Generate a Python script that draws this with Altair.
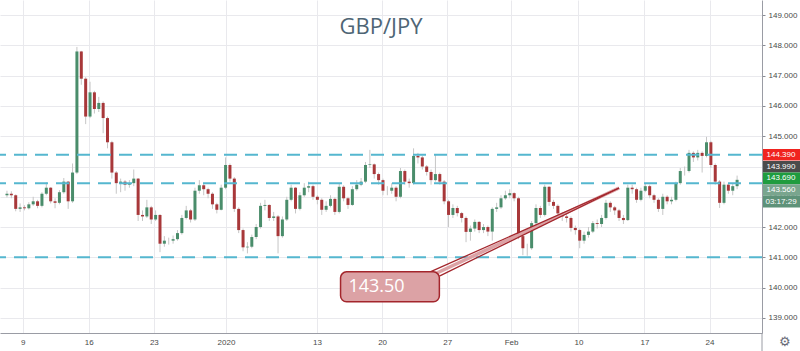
import altair as alt
import pandas as pd

# ---- data (4h-ish candles, GBP/JPY) ----
first_open = 143.05
closes = [143.10, 143.05, 142.60, 142.65, 142.62, 142.75, 142.85, 142.70, 143.10, 143.30,
          142.85, 142.80, 143.15, 143.50, 142.85, 143.80, 147.80, 146.90, 145.65, 146.45,
          145.90, 146.10, 145.60, 144.80, 143.80, 143.45, 143.50, 143.40, 143.45, 143.60,
          142.40, 142.35, 142.65, 142.25, 142.40, 141.45, 141.55, 141.55, 141.60, 141.80,
          142.30, 142.55, 142.25, 143.20, 143.38, 143.25, 143.10, 142.75, 142.57, 143.30,
          144.05, 143.60, 142.60, 141.90, 141.33, 141.35, 141.67, 142.00, 142.70, 142.73,
          142.30, 142.35, 141.70, 142.25, 142.90, 143.30, 142.60, 143.05, 143.30, 143.35,
          143.00, 142.90, 142.57, 142.70, 142.93, 142.50, 143.33, 142.95, 142.73, 143.25,
          143.40, 143.50, 144.05, 144.07, 143.75, 143.55, 143.20, 143.20, 143.30, 143.00,
          143.85, 143.50, 143.45, 144.35, 144.30, 144.00, 143.82, 143.55, 143.75, 143.50,
          142.85, 142.40, 142.63, 142.46, 142.30, 141.84, 141.95, 142.17, 141.90, 142.00,
          141.85, 142.60, 142.65, 142.95, 143.05, 143.12, 142.95, 141.70, 141.30, 141.30,
          142.13, 142.63, 142.40, 143.33, 142.83, 142.70, 142.45, 142.35, 142.30, 141.97,
          141.90, 141.55, 141.74, 141.85, 142.13, 142.10, 142.30, 142.80, 142.65, 142.55,
          142.30, 142.23, 143.30, 143.25, 142.90, 143.20, 143.35, 143.05, 142.90, 142.60,
          143.00, 142.85, 142.90, 143.45, 143.85, 143.85, 144.45, 144.30, 144.45, 144.35,
          144.80, 144.05, 143.50, 142.80, 143.40, 143.20, 143.35, 143.56]
highs = [143.20, 143.18, 143.08, 142.78, 142.72, 142.82, 143.00, 142.90, 143.15, 143.48,
         143.32, 142.95, 143.22, 143.62, 143.52, 144.10, 147.95, 147.82, 146.95, 146.80,
         146.50, 146.30, 146.15, 145.65, 144.85, 143.85, 143.60, 143.55, 143.55, 143.90,
         143.62, 142.55, 142.90, 142.70, 142.55, 142.42, 141.70, 141.65, 141.72, 141.90,
         142.40, 142.70, 142.60, 143.30, 143.55, 143.45, 143.30, 143.15, 142.80, 143.40,
         144.30, 144.10, 143.65, 142.65, 141.95, 141.50, 141.75, 142.10, 142.80, 142.90,
         142.75, 142.50, 142.40, 142.35, 143.00, 143.40, 143.32, 143.15, 143.45, 143.50,
         143.40, 143.05, 142.95, 142.85, 143.05, 142.98, 143.45, 143.38, 143.00, 143.35,
         143.55, 143.62, 144.15, 144.55, 144.10, 143.80, 143.60, 143.35, 143.45, 143.35,
         143.95, 143.90, 143.60, 144.60, 144.45, 144.35, 144.05, 143.90, 144.40, 143.80,
         143.55, 142.90, 142.75, 142.70, 142.50, 142.35, 142.05, 142.25, 142.20, 142.10,
         142.05, 142.65, 142.80, 143.05, 143.20, 143.25, 143.15, 143.00, 141.75, 141.45,
         142.20, 142.75, 142.70, 143.40, 143.35, 142.90, 142.75, 142.50, 142.45, 142.35,
         142.05, 141.95, 141.85, 142.00, 142.20, 142.25, 142.40, 142.90, 142.85, 142.70,
         142.60, 142.40, 143.40, 143.40, 143.30, 143.30, 143.45, 143.40, 143.10, 142.95,
         143.10, 143.05, 143.00, 143.50, 143.95, 144.00, 144.55, 144.50, 144.55, 144.50,
         144.98, 144.85, 144.10, 143.55, 143.50, 143.45, 143.45, 143.70]
lows = [142.98, 142.95, 142.52, 142.50, 142.55, 142.58, 142.70, 142.62, 142.65, 143.05,
        142.78, 142.62, 142.75, 143.10, 142.60, 142.80, 143.75, 146.70, 145.40, 145.60,
        145.75, 145.80, 145.10, 144.60, 143.60, 143.10, 143.15, 143.20, 143.30, 143.35,
        142.20, 142.20, 142.30, 142.10, 142.20, 141.17, 141.35, 141.42, 141.45, 141.55,
        141.75, 142.25, 142.15, 142.20, 143.10, 143.05, 142.95, 142.60, 142.45, 142.55,
        143.25, 143.50, 142.50, 141.80, 141.20, 141.13, 141.30, 141.60, 141.95, 142.55,
        142.20, 142.20, 141.13, 141.65, 142.20, 142.85, 142.45, 142.55, 143.00, 143.15,
        142.90, 142.75, 142.40, 142.50, 142.65, 142.40, 142.45, 142.85, 142.60, 142.70,
        143.20, 143.35, 143.45, 143.95, 143.60, 143.40, 143.05, 143.05, 143.10, 142.85,
        142.95, 143.40, 143.30, 143.40, 144.10, 143.90, 143.70, 143.40, 143.50, 143.40,
        142.75, 142.00, 142.30, 142.35, 142.15, 141.50, 141.55, 141.85, 141.80, 141.80,
        141.70, 141.55, 142.50, 142.60, 142.90, 142.95, 142.85, 141.60, 141.07, 141.05,
        141.25, 142.05, 142.30, 142.35, 142.70, 142.60, 142.35, 142.20, 142.15, 141.85,
        141.75, 141.30, 141.45, 141.65, 141.80, 141.95, 142.00, 142.25, 142.50, 142.40,
        142.20, 142.10, 142.20, 143.10, 142.80, 142.85, 143.15, 142.95, 142.80, 142.50,
        142.40, 142.75, 142.75, 142.85, 143.40, 143.70, 143.80, 144.15, 144.20, 143.80,
        144.30, 143.95, 143.40, 142.63, 142.75, 143.10, 143.05, 143.25]

tick_pos = [3.6, 18.7, 33.6, 50.1, 70.9, 85.8, 100.7, 115.3, 130.7, 145.8, 160.7]
tick_labels = ["9", "16", "23", "2020", "13", "20", "27", "Feb", "10", "17", "24"]
price_ticks = [139, 140, 141, 142, 143, 144, 145, 146, 147, 148, 149]
levels = [144.39, 143.45, 141.00]

label_texts = ["144.390", "143.990", "143.690", "143.560", "03:17:29"]
label_prices = [144.39, 143.99, 143.69, 143.56, 143.56]
label_colors = ["#f0231f", "#4b4b4b", "#1f9c3f", "#79a58e", "#5e9279"]

callout_text = "143.50"
callout_box = {"x0": 76.3, "x1": 98.9, "y0": 139.53, "y1": 140.52}
callout_tip = (140.0, 143.29)
callout_base = [(96.8, 140.52), (98.9, 140.38)]

# ---- geometry ----
W, H = 762, 333
Y0, Y1 = 138.5, 149.5
X0, X1 = -0.45, 171.55
xs = alt.Scale(domain=[X0, X1], nice=False, zero=False)
ys = alt.Scale(domain=[Y0, Y1], nice=False, zero=False)

opens = [first_open] + closes[:-1]
df = pd.DataFrame({"i": list(range(len(closes))), "open": opens, "high": highs,
                   "low": lows, "close": closes})
df["dir"] = ["up" if c >= o else "down" for o, c in zip(opens, closes)]

lab_expr = "[" + ",".join("'%s'" % t for t in tick_labels) + "][indexof([" + \
    ",".join(str(v) for v in tick_pos) + "], datum.value)]"

xaxis = alt.Axis(values=tick_pos, labelExpr=lab_expr, grid=True, gridColor="#e9e9ed",
                 ticks=False, domainColor="#9a9ca4", labelFontSize=8, labelColor="#4a4a4a",
                 labelPadding=5, title=None, labelFlush=False, labelOverlap=False,
                 labelFont="Liberation Sans")
yaxis = alt.Axis(orient="right", values=price_ticks, format=".3f", grid=True,
                 gridColor="#e9e9ed", tickSize=3, tickColor="#8a8c94", domainColor="#9a9ca4",
                 labelFontSize=8, labelColor="#4a4a4a", labelPadding=3, title=None,
                 labelFont="Liberation Sans")


def X(field):
    return alt.X(field, scale=xs, axis=xaxis)


def Y(field):
    return alt.Y(field, scale=ys, axis=yaxis)


wicks = alt.Chart(df).mark_rule(color="#c6c6c6", strokeWidth=1).encode(
    x=X("i:Q"), y=Y("low:Q"), y2="high:Q")

bodies = alt.Chart(df).mark_bar(width=3).encode(
    x=X("i:Q"), y=Y("open:Q"), y2="close:Q",
    color=alt.Color("dir:N", scale=alt.Scale(domain=["up", "down"],
                                            range=["#4a8d6b", "#a8383a"]), legend=None),
)

rules = alt.Chart(pd.DataFrame({"level": levels})).mark_rule(
    strokeDash=[13, 8], color="#55b7cf", strokeWidth=2).encode(y=Y("level:Q"))

# callout pointer
edge_rows = []
for k, (bx, by) in enumerate(callout_base):
    edge_rows.append({"seg": k, "o": 0, "x": bx, "y": by})
    edge_rows.append({"seg": k, "o": 1, "x": callout_tip[0], "y": callout_tip[1]})
edges = pd.DataFrame(edge_rows)
mid = pd.DataFrame({"o": [0, 1],
                    "x": [(callout_base[0][0] + callout_base[1][0]) / 2, callout_tip[0]],
                    "y": [(callout_base[0][1] + callout_base[1][1]) / 2, callout_tip[1]]})
pointer_fill = alt.Chart(mid).mark_line(color="#dca2a5", strokeWidth=3.5).encode(
    x=X("x:Q"), y=Y("y:Q"), order="o:Q")
pointer_edges = alt.Chart(edges).mark_line(color="#a3262c", strokeWidth=1.3).encode(
    x=X("x:Q"), y=Y("y:Q"), detail="seg:N", order="o:Q")

box_df = pd.DataFrame([callout_box])
box = alt.Chart(box_df).mark_rect(cornerRadius=6, fill="#dca2a5", stroke="#a3262c",
                                  strokeWidth=1.5).encode(
    x=X("x0:Q"), x2="x1:Q", y=Y("y0:Q"), y2="y1:Q")
box_text = alt.Chart(pd.DataFrame({"x": [callout_box["x0"] + 1.8],
                                   "y": [(callout_box["y0"] + callout_box["y1"]) / 2],
                                   "t": [callout_text]})).mark_text(
    align="left", baseline="middle", fontSize=18, color="white", font="Open Sans").encode(
    x=X("x:Q"), y=Y("y:Q"), text="t:N")

# right-hand price labels, stacked to avoid overlap
ppu = H / (Y1 - Y0)
slot = 11.6
pos = []
prev = None
for p in label_prices:
    pix = (Y1 - p) * ppu
    if prev is not None and pix < prev + slot:
        pix = prev + slot
    pos.append(pix)
    prev = pix
lab_df = pd.DataFrame({
    "t": label_texts,
    "c": label_colors,
    "yc": [Y1 - v / ppu for v in pos],
    "yt": [Y1 - (v - slot / 2) / ppu for v in pos],
    "yb": [Y1 - (v + slot / 2) / ppu for v in pos],
})
lab_rect = alt.Chart(lab_df).mark_rect().encode(
    x=alt.value(763), x2=alt.value(800),
    y=Y("yt:Q"), y2="yb:Q",
    color=alt.Color("c:N", scale=None))
lab_text = alt.Chart(lab_df).mark_text(align="center", baseline="middle", fontSize=8,
                                       color="white", font="Liberation Sans").encode(
    x=alt.value(781), y=Y("yc:Q"), text="t:N")

one = pd.DataFrame({"a": [0]})
title = alt.Chart(one).mark_text(text="GBP/JPY", fontSize=22, font="Open Sans",
                                 color="#4e6575", align="center", baseline="middle").encode(
    x=alt.value(381), y=alt.value(27))
vline = alt.Chart(one).mark_rule(color="#9a9ca4").encode(
    x=alt.value(762), y=alt.value(333), y2=alt.value(351))
gear = alt.Chart(one).mark_text(text="⚙", fontSize=13, color="#6a6d78",
                                align="center", baseline="middle").encode(
    x=alt.value(785), y=alt.value(342))

chart = alt.layer(
    wicks, bodies, rules, pointer_fill, pointer_edges, box, box_text,
    lab_rect, lab_text, title, vline, gear
).properties(
    width=W, height=H,
    padding={"left": 0, "top": 0, "right": 38, "bottom": 18},
    autosize="none", background="white"
).configure_view(strokeWidth=0)

chart.save("out.html", embed_options={"renderer": "svg", "actions": False})
